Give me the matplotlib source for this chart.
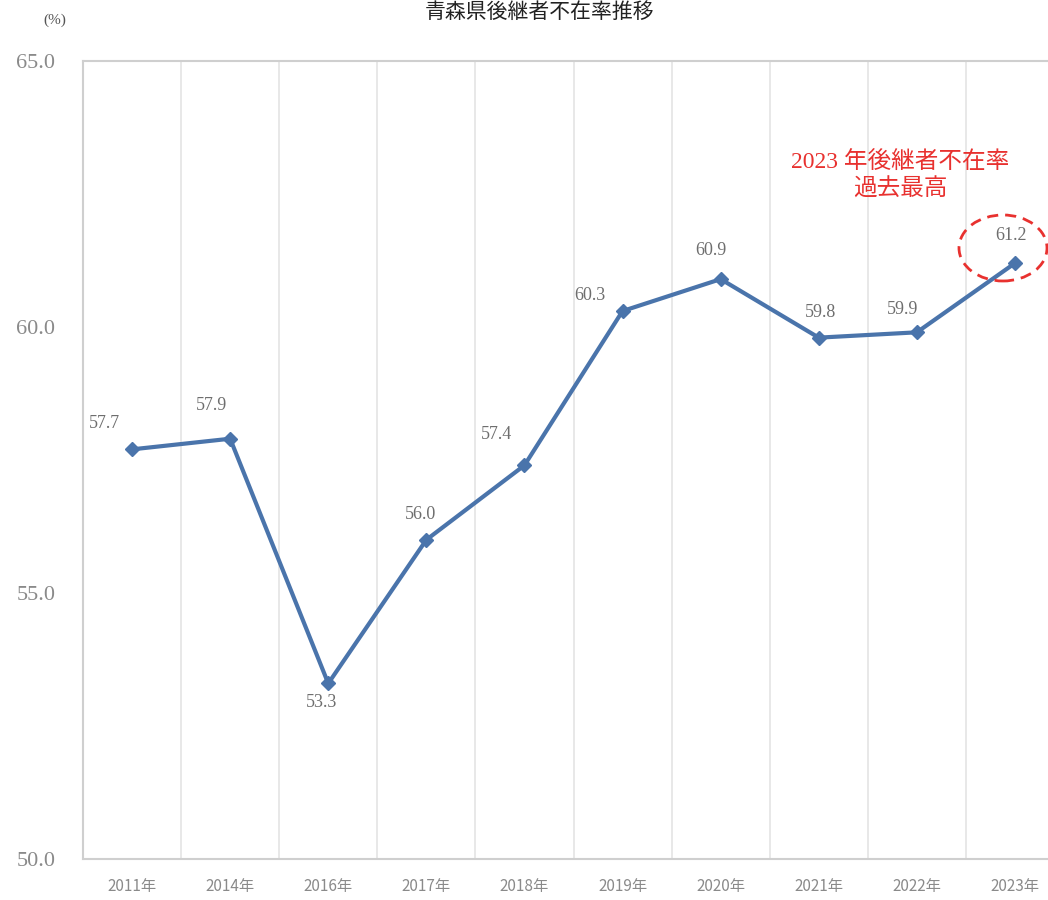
import matplotlib.pyplot as plt
from matplotlib.patches import Ellipse

plt.rcParams['font.family'] = ['Liberation Serif', 'Noto Sans CJK JP', 'DejaVu Sans']

years = ['2011年', '2014年', '2016年', '2017年', '2018年', '2019年', '2020年', '2021年', '2022年', '2023年']
rates = [57.7, 57.9, 53.3, 56.0, 57.4, 60.3, 60.9, 59.8, 59.9, 61.2]
y_ticks = [50.0, 55.0, 60.0, 65.0]

# label offsets in pixels from each point
label_off = [(-28, 26), (-19, 33), (-7, -19), (-6, 25), (-28, 31),
             (-33, 16), (-10, 29), (2, 25), (-14, 23), (-4, 28)]

fig = plt.figure(figsize=(10.48, 9), dpi=100)
ax = fig.add_axes([83 / 1048, 41 / 900, 981 / 1048, 798 / 900])

x = list(range(len(years)))
ax.plot(x, rates, color='#4a74ab', lw=3, marker='D', ms=7, zorder=3)

ax.set_xlim(-0.5, len(years) - 0.5)
ax.set_ylim(50, 65)
ax.set_yticks(y_ticks)
ax.set_yticklabels([f'{v:.1f}' for v in y_ticks], color='#8a8a8a', fontsize=16)
ax.set_xticks(x)
ax.set_xticklabels(years, color='#8a8a8a', fontsize=11, family=['Noto Sans CJK JP'])
ax.tick_params(length=0, pad=14)
ax.tick_params(axis='y', pad=20)

# vertical separators between categories
for b in range(1, len(years)):
    ax.axvline(b - 0.5, color='#e4e4e4', lw=1.2, zorder=0)
for s in ax.spines.values():
    s.set_color('#cfcfcf')
    s.set_linewidth(1.5)

for i, v in enumerate(rates):
    ax.annotate(f'{v:.1f}', (i, v), xytext=label_off[i], textcoords='offset pixels',
                ha='center', va='center', fontsize=13, color='#6e6e6e')

# highlight on the latest value
ax.add_patch(Ellipse((1003 / 1048, 1 - 248 / 900), 88 / 1048, 66 / 900,
                     transform=fig.transFigure, fill=False, ec='#e8312f',
                     ls=(0, (4, 2.5)), lw=2, zorder=5))
fig.text(900 / 1048, 1 - 176 / 900, '2023 年後継者不在率\n過去最高', ha='center', va='center',
         color='#e8312f', fontsize=17, linespacing=1.35)

fig.text(55 / 1048, 1 - 20 / 900, '(%)', ha='center', va='center', fontsize=11, color='#555555')
fig.text(540 / 1048, 1 - 1 / 900, '青森県後継者不在率推移', ha='center', va='top',
         fontsize=15, color='#222222', family=['Noto Sans CJK JP'])

fig.savefig('out.png', dpi=100)
